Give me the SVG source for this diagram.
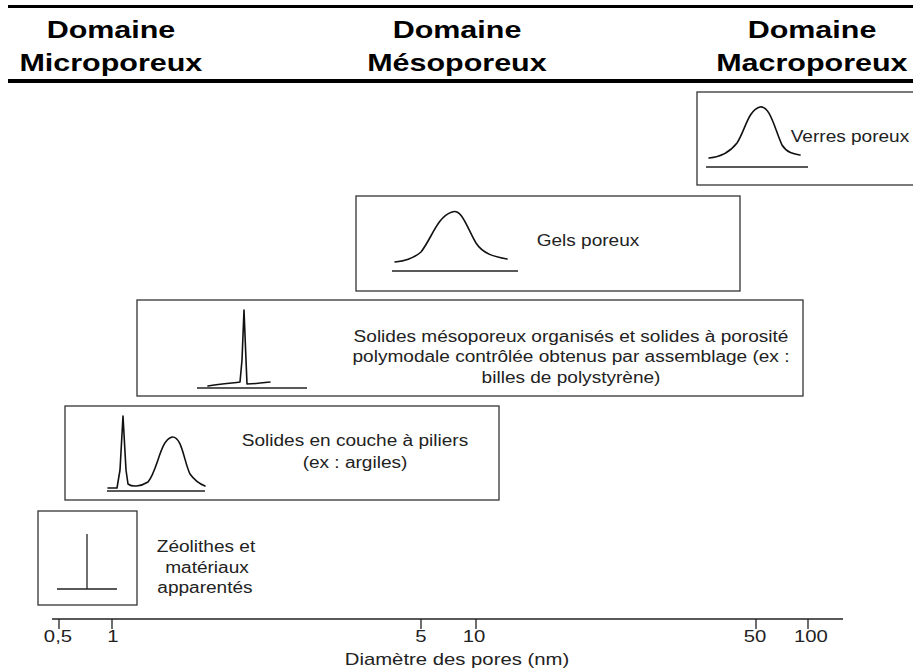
<svg xmlns="http://www.w3.org/2000/svg" width="913" height="672" viewBox="0 0 913 672">
<style>
text{transform-box:fill-box;transform-origin:center;transform:scaleX(1.27)}
.hd{font-family:"Liberation Sans",Arial,sans-serif;font-weight:bold;font-size:24px;fill:#000;text-anchor:middle}
.t{font-family:"Liberation Sans",Arial,sans-serif;font-size:16px;fill:#222;text-anchor:middle;transform:scaleX(1.19)}
.ax{font-family:"Liberation Sans",Arial,sans-serif;font-size:16px;fill:#222;text-anchor:middle}
.box{fill:#fff;stroke:#333;stroke-width:1.3}
.crv{fill:none;stroke:#111;stroke-width:1.6;stroke-linejoin:round;stroke-linecap:round}
.base{stroke:#222;stroke-width:1.3}
</style>
<rect width="913" height="672" fill="#fff"/>
<g id="header">
<line x1="8" y1="6.5" x2="913" y2="6.5" stroke="#000" stroke-width="3"/>
<line x1="8" y1="81" x2="913" y2="81" stroke="#000" stroke-width="4"/>
<text class="hd" x="111" y="38">Domaine</text>
<text class="hd" x="111" y="71">Microporeux</text>
<text class="hd" x="457" y="38">Domaine</text>
<text class="hd" x="457" y="71">Mésoporeux</text>
<text class="hd" x="812" y="38">Domaine</text>
<text class="hd" x="812" y="71">Macroporeux</text>
</g>
<g id="verres">
<rect class="box" x="697" y="92" width="230" height="93"/>
<line class="base" x1="706" y1="167" x2="808" y2="167"/>
<path class="crv" d="M709,158 C722,157 730,152 737,143 C745,131 748,110 760,107 C770,105 775,130 782,145 C787,153 794,154 800,155"/>
<text class="t" x="850" y="142">Verres poreux</text>
</g>
<g id="gels">
<rect class="box" x="356" y="196" width="384" height="95"/>
<line class="base" x1="392" y1="271" x2="518" y2="271"/>
<path class="crv" d="M395,262 C405,261 413,259 421,252 C432,238 437,217 452,212 C462,208 467,228 476,243 C483,254 495,257 507,259"/>
<text class="t" x="588" y="246">Gels poreux</text>
</g>
<g id="mesoporeux">
<rect class="box" x="137" y="300" width="666" height="96"/>
<line class="base" x1="197" y1="388" x2="307" y2="388"/>
<path class="crv" d="M208,386 C220,384 232,383 240,382 L242,360 L244,310 L246,360 L247,384 C255,384 262,383 270,382"/>
<text class="t" x="571" y="342">Solides mésoporeux organisés et solides à porosité</text>
<text class="t" x="571" y="362">polymodale contrôlée obtenus par assemblage (ex :</text>
<text class="t" x="571" y="383">billes de polystyrène)</text>
</g>
<g id="couche">
<rect class="box" x="65" y="406" width="434" height="94"/>
<line class="base" x1="107" y1="491" x2="205" y2="491"/>
<path class="crv" d="M108,488 L117,488 L120,470 L123,416 L126,470 L128,484 C132,487 140,487 148,482 C158,470 160,440 172,437 C182,436 184,462 190,474 C195,481 200,484 205,486"/>
<text class="t" x="355" y="446">Solides en couche à piliers</text>
<text class="t" x="355" y="468">(ex : argiles)</text>
</g>
<g id="zeolithes">
<rect class="box" x="38" y="511" width="99" height="94"/>
<line class="base" x1="87" y1="534" x2="87" y2="589"/>
<line class="base" x1="57" y1="589" x2="117" y2="589"/>
<text class="t" x="206" y="552">Zéolithes et</text>
<text class="t" x="207" y="573">matériaux</text>
<text class="t" x="205" y="593">apparentés</text>
</g>
<g id="axis">
<line x1="52" y1="619" x2="843" y2="619" stroke="#222" stroke-width="1.3"/>
<path d="M59,619V629M112,619V629M421,619V629M476,619V629M756,619V629M808,619V629" stroke="#222" stroke-width="1.3"/>
<text class="ax" x="58" y="642">0,5</text>
<text class="ax" x="113" y="642">1</text>
<text class="ax" x="421" y="642">5</text>
<text class="ax" x="474" y="642">10</text>
<text class="ax" x="755" y="642">50</text>
<text class="ax" x="811" y="642">100</text>
<text class="ax" x="457" y="665">Diamètre des pores (nm)</text>
</g>
</svg>
